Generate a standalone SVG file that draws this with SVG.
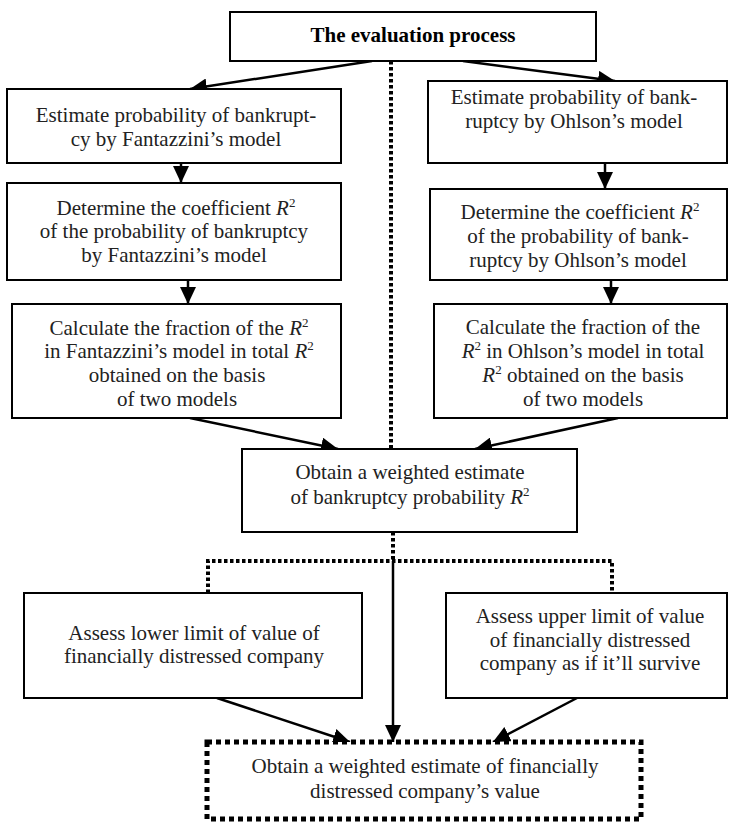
<svg xmlns="http://www.w3.org/2000/svg" width="730" height="823" viewBox="0 0 730 823">
<style>
.box{fill:#fff;stroke:#000;stroke-width:2}
.t{font-family:"Liberation Serif","Times New Roman",serif;font-size:21px;fill:#222;text-anchor:middle}
.b{font-weight:bold;fill:#000}
.i{font-style:italic}
.sup{font-size:13px}
.arr{stroke:#000;stroke-width:2.5;fill:none;marker-end:url(#ah)}
.dot{stroke:#000;stroke-width:4;fill:none;stroke-dasharray:3.5 2.5}
.dotbox{fill:#fff;stroke:#000;stroke-width:5;stroke-dasharray:5 4}
</style>
<defs>
<marker id="ah" markerUnits="userSpaceOnUse" markerWidth="18" markerHeight="16" refX="17" refY="8" orient="auto">
<path d="M0,0 L17,8 L0,16 Z" fill="#000"/>
</marker>
</defs>
<g id="connectors">
<line class="dot" x1="391" y1="61" x2="391" y2="449"/>
<line class="arr" x1="372" y1="61" x2="190" y2="89"/>
<line class="arr" x1="463" y1="61" x2="615" y2="81"/>
<line class="arr" x1="181" y1="163" x2="181" y2="183"/>
<line class="arr" x1="188" y1="280" x2="188" y2="304"/>
<line class="arr" x1="605" y1="163" x2="605" y2="189"/>
<line class="arr" x1="611" y1="280" x2="611" y2="304"/>
<line class="arr" x1="190" y1="418" x2="338" y2="449"/>
<line class="arr" x1="618" y1="418" x2="475" y2="449"/>
<line class="dot" x1="393" y1="532" x2="393" y2="561"/>
<polyline class="dot" points="208,593 208,561 612,561 612,593"/>
<line class="arr" x1="393" y1="561" x2="393" y2="742"/>
<line class="arr" x1="217" y1="698" x2="350" y2="742"/>
<line class="arr" x1="577" y1="698" x2="493" y2="742"/>
</g>
<g id="top">
<rect class="box" x="230" y="12" width="366" height="49"/>
<text class="t b" x="413" y="42">The evaluation process</text>
</g>
<g id="L1">
<rect class="box" x="7" y="89" width="334" height="74"/>
<text class="t" x="176" y="122">Estimate probability of bankrupt-</text>
<text class="t" x="176" y="146">cy by Fantazzini’s model</text>
</g>
<g id="R1">
<rect class="box" x="428" y="81" width="299" height="82"/>
<text class="t" x="574" y="104">Estimate probability of bank-</text>
<text class="t" x="574" y="128">ruptcy by Ohlson’s model</text>
</g>
<g id="L2">
<rect class="box" x="7" y="183" width="334" height="97"/>
<text class="t" x="176" y="215">Determine the coefficient <tspan class="i">R</tspan><tspan class="sup" dy="-8">2</tspan></text>
<text class="t" x="174" y="238">of the probability of bankruptcy</text>
<text class="t" x="174" y="262">by Fantazzini’s model</text>
</g>
<g id="R2">
<rect class="box" x="430" y="189" width="297" height="91"/>
<text class="t" x="580" y="219">Determine the coefficient <tspan class="i">R</tspan><tspan class="sup" dy="-8">2</tspan></text>
<text class="t" x="578" y="243">of the probability of bank-</text>
<text class="t" x="578" y="267">ruptcy by Ohlson’s model</text>
</g>
<g id="L3">
<rect class="box" x="12" y="304" width="329" height="114"/>
<text class="t" x="179" y="335">Calculate the fraction of the <tspan class="i">R</tspan><tspan class="sup" dy="-8">2</tspan></text>
<text class="t" x="179" y="358">in Fantazzini’s model in total <tspan class="i">R</tspan><tspan class="sup" dy="-8">2</tspan></text>
<text class="t" x="177" y="382">obtained on the basis</text>
<text class="t" x="177" y="406">of two models</text>
</g>
<g id="R3">
<rect class="box" x="434" y="304" width="293" height="114"/>
<text class="t" x="583" y="334">Calculate the fraction of the</text>
<text class="t" x="583" y="358"><tspan class="i">R</tspan><tspan class="sup" dy="-8">2</tspan><tspan dy="8"> in Ohlson’s model in total</tspan></text>
<text class="t" x="583" y="382"><tspan class="i">R</tspan><tspan class="sup" dy="-8">2</tspan><tspan dy="8"> obtained on the basis</tspan></text>
<text class="t" x="583" y="406">of two models</text>
</g>
<g id="W">
<rect class="box" x="242" y="449" width="335" height="83"/>
<text class="t" x="410" y="479">Obtain a weighted estimate</text>
<text class="t" x="410" y="504">of bankruptcy probability <tspan class="i">R</tspan><tspan class="sup" dy="-8">2</tspan></text>
</g>
<g id="LL">
<rect class="box" x="24" y="593" width="338" height="105"/>
<text class="t" x="194" y="640">Assess lower limit of value of</text>
<text class="t" x="194" y="663">financially distressed company</text>
</g>
<g id="LR">
<rect class="box" x="446" y="593" width="281" height="105"/>
<text class="t" x="590" y="623">Assess upper limit of value</text>
<text class="t" x="590" y="647">of financially distressed</text>
<text class="t" x="590" y="670">company as if it’ll survive</text>
</g>
<g id="B">
<rect class="dotbox" x="207" y="742" width="434" height="77"/>
<text class="t" x="425" y="773">Obtain a weighted estimate of financially</text>
<text class="t" x="425" y="798">distressed company’s value</text>
</g>
</svg>
